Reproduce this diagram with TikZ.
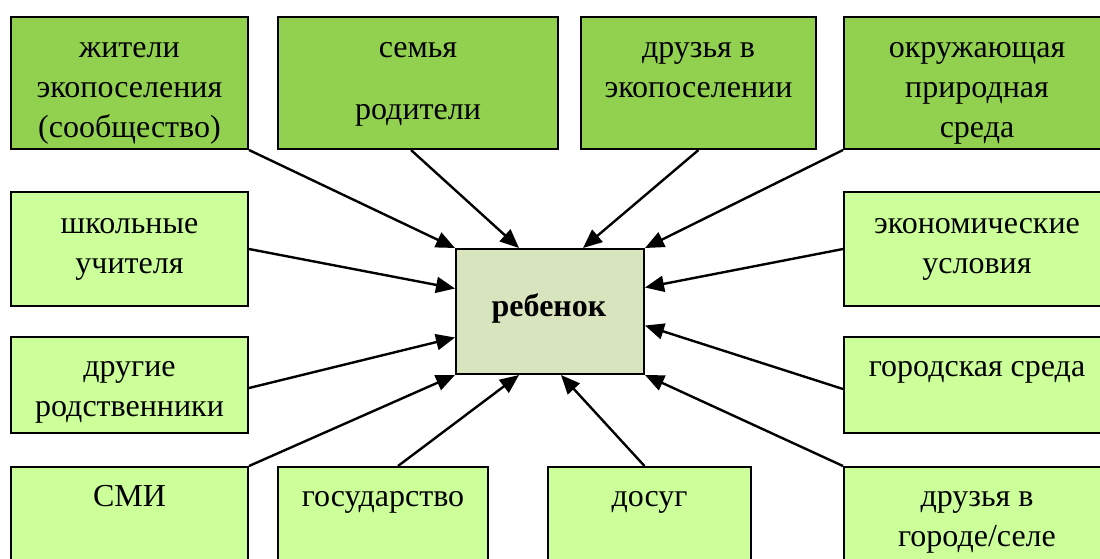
\documentclass[tikz,border=0pt]{standalone}
\usepackage{fontspec}
\setmainfont{Liberation Serif}
\usetikzlibrary{arrows.meta}
\definecolor{dkgreen}{HTML}{92D050}
\definecolor{ltgreen}{HTML}{CCFF99}
\definecolor{ctrfill}{HTML}{D7E4BD}
\begin{document}
\begin{tikzpicture}[x=1pt,y=-1pt,
  box/.style={draw=black, line width=2pt, anchor=north west, inner sep=0pt},
  topbox/.style={box, fill=dkgreen},
  lowbox/.style={box, fill=ltgreen},
  txt/.style={anchor=north, inner sep=0pt, align=center, font=\fontsize{32}{40}\selectfont},
  arr/.style={-{Triangle[length=19pt,width=16pt]}, line width=2.4pt}]
\useasboundingbox (0,0) rectangle (1100,558);
\clip (0,0) rectangle (1100,558);
% top row
\node[topbox, minimum width=237pt, minimum height=132pt] (b1) at (10,16) {};
\node[topbox, minimum width=280pt, minimum height=132pt] (b2) at (277,16) {};
\node[topbox, minimum width=235pt, minimum height=132pt] (b3) at (580,16) {};
\node[topbox, minimum width=266pt, minimum height=132pt] (b4) at (843,16) {};
% second row
\node[lowbox, minimum width=237pt, minimum height=114pt] (b5) at (10,191) {};
\node[lowbox, minimum width=266pt, minimum height=114pt] (b6) at (843,191) {};
% third row
\node[lowbox, minimum width=237pt, minimum height=96pt] (b7) at (10,336) {};
\node[lowbox, minimum width=266pt, minimum height=96pt] (b8) at (843,336) {};
% bottom row
\node[lowbox, minimum width=237pt, minimum height=140pt] (b9) at (10,466) {};
\node[lowbox, minimum width=210pt, minimum height=140pt] (b10) at (277,466) {};
\node[lowbox, minimum width=203pt, minimum height=140pt] (b11) at (547,466) {};
\node[lowbox, minimum width=266pt, minimum height=140pt] (b12) at (843,466) {};
% centre
\node[box, fill=ctrfill, minimum width=188pt, minimum height=125pt] (ctr) at (455,248) {};
\node[anchor=base, inner sep=0pt, font=\fontsize{32}{40}\selectfont\bfseries] (tc) at (549,316) {ребенок};
% texts
\node[txt] (t1) at ([yshift=-13pt]b1.north) {\strut жители\\\strut экопоселения\\\strut (сообщество)};
\node[txt] (t2) at ([yshift=-13pt]b2.north) {\strut семья\\[22pt]\strut родители};
\node[txt] (t3) at ([yshift=-13pt]b3.north) {\strut друзья в\\\strut экопоселении};
\node[txt] (t4) at ([yshift=-13pt]b4.north) {\strut окружающая\\\strut природная\\\strut среда};
\node[txt] (t5) at ([yshift=-14pt]b5.north) {\strut школьные\\\strut учителя};
\node[txt] (t6) at ([yshift=-14pt]b6.north) {\strut экономические\\\strut условия};
\node[txt] (t7) at ([yshift=-12pt]b7.north) {\strut другие\\\strut родственники};
\node[txt] (t8) at ([yshift=-12pt]b8.north) {\strut городская среда};
\node[txt] (t9) at ([yshift=-12pt]b9.north) {\strut СМИ};
\node[txt] (t10) at ([yshift=-12pt]b10.north) {\strut государство};
\node[txt] (t11) at ([yshift=-12pt]b11.north) {\strut досуг};
\node[txt] (t12) at ([yshift=-12pt]b12.north) {\strut друзья в\\\strut городе/селе};
% arrows
\draw[arr] (b1.south east) -- (ctr.north west);
\draw[arr] ([xshift=-7pt]b2.south) -- ([xshift=-31pt]ctr.north);
\draw[arr] (b3.south) -- ([xshift=33pt]ctr.north);
\draw[arr] (b4.south west) -- (ctr.north east);
\draw[arr] (b5.east) -- ([yshift=23pt]ctr.west);
\draw[arr] (b6.west) -- ([yshift=24pt]ctr.east);
\draw[arr] ([yshift=-3pt]b7.east) -- ([yshift=-26pt]ctr.west);
\draw[arr] ([yshift=-4pt]b8.west) -- ([yshift=-14pt]ctr.east);
\draw[arr] (b9.north west -| b9.east) -- (ctr.south west);
\draw[arr] ([xshift=15pt]b10.north) -- ([xshift=-31pt]ctr.south);
\draw[arr] ([xshift=-5pt]b11.north) -- ([xshift=11pt]ctr.south);
\draw[arr] (b12.north west) -- (ctr.south east);
\end{tikzpicture}
\end{document}
